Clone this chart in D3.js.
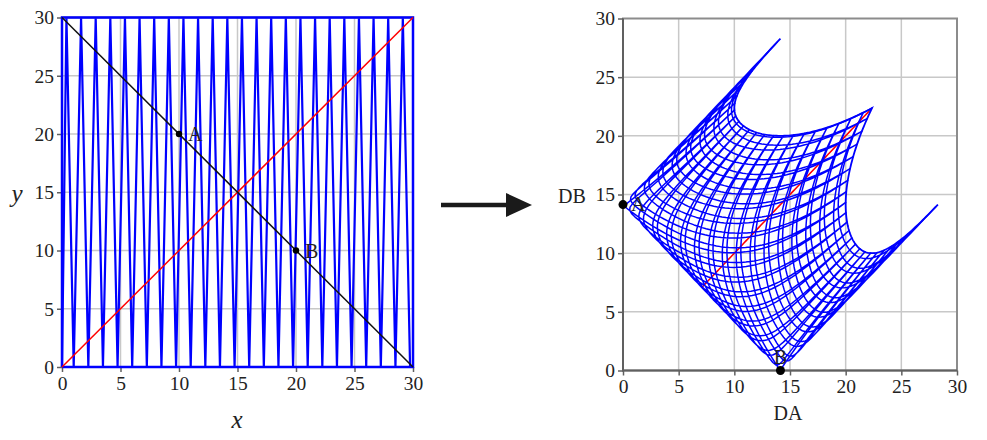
<!DOCTYPE html>
<html lang="en">
<head>
<meta charset="utf-8">
<title>Distance map</title>
<script src="https://d3js.org/d3.v7.min.js"></script>
<style>
  body { margin: 0; background: #fff; }
  text { font-family: "Liberation Serif", "DejaVu Serif", serif; fill: #222; }
</style>
</head>
<body>
<div id="chart"></div>
<script>
// Tick values (same on both charts)
var ticks = [0, 5, 10, 15, 20, 25, 30];

// Zigzag curve in the square: x of the top (y=30) and bottom (y=0) turning points
var zigTopX = [0.38, 1.63, 2.88, 4.13, 5.38, 6.63, 7.88, 9.13, 10.38, 11.63, 12.88, 14.13,
               15.38, 16.63, 17.88, 19.13, 20.38, 21.63, 22.88, 24.13, 25.38, 26.63, 27.88, 29.13];
var zigBottomX = [1.0, 2.25, 3.5, 4.75, 6.0, 7.25, 8.5, 9.75, 11.0, 12.25, 13.5, 14.75,
                  16.0, 17.25, 18.5, 19.75, 21.0, 22.25, 23.5, 24.75, 26.0, 27.25, 28.5, 29.75];
// Border of the square, also part of the blue curve
var border = [[0, 0], [0, 30], [30, 30], [30, 0], [0, 0]];
// Straight lines
var redLine = [[0, 0], [30, 30]];
var blackLine = [[0, 30], [30, 0]];
// Reference points
var pointNames = ["A", "B"];
var pointXY = [[10, 20], [20, 10]];

var svg = d3.select("#chart").append("svg")
  .attr("width", 987).attr("height", 440)
  .style("background", "#fff");

// build the zigzag vertex list
var zig = [[0, 0]];
zigTopX.forEach(function(t, i) {
  zig.push([t, 30]);
  if (i < zigBottomX.length) zig.push([zigBottomX[i], 0]);
});

// ---------- left chart ----------
var xL = d3.scaleLinear().domain([0, 30]).range([62, 413]);
var yL = d3.scaleLinear().domain([0, 30]).range([367, 17.5]);

// ---------- right chart ----------
var xR = d3.scaleLinear().domain([0, 30]).range([623, 957]);
var yR = d3.scaleLinear().domain([0, 30]).range([370.5, 18.5]);

function drawFrame(g, x, y) {
  g.selectAll(".gx").data(ticks.slice(1, -1)).enter().append("line")
    .attr("x1", function(d) { return x(d); }).attr("x2", function(d) { return x(d); })
    .attr("y1", y(0)).attr("y2", y(30))
    .attr("stroke", "#c8c8c8").attr("stroke-width", 1.5);
  g.selectAll(".gy").data(ticks.slice(1, -1)).enter().append("line")
    .attr("y1", function(d) { return y(d); }).attr("y2", function(d) { return y(d); })
    .attr("x1", x(0)).attr("x2", x(30))
    .attr("stroke", "#c8c8c8").attr("stroke-width", 1.5);
}

function drawAxes(g, x, y) {
  g.append("rect")
    .attr("x", x(0)).attr("y", y(30))
    .attr("width", x(30) - x(0)).attr("height", y(0) - y(30))
    .attr("fill", "none").attr("stroke", "#8c8c8c").attr("stroke-width", 2);
  g.append("path")
    .attr("d", "M" + x(0) + "," + y(30) + "V" + y(0) + "H" + x(30))
    .attr("fill", "none").attr("stroke", "#606060").attr("stroke-width", 2);

  var ax = g.append("g").attr("transform", "translate(0," + y(0) + ")")
    .call(d3.axisBottom(x).tickValues(ticks).tickSize(5).tickPadding(4).tickFormat(d3.format("d")));
  var ay = g.append("g").attr("transform", "translate(" + x(0) + ",0)")
    .call(d3.axisLeft(y).tickValues(ticks).tickSize(5).tickPadding(3).tickFormat(d3.format("d")));
  [ax, ay].forEach(function(a) {
    a.select(".domain").remove();
    a.selectAll("line").attr("stroke", "#606060").attr("stroke-width", 1.5);
    a.selectAll("text").attr("font-size", "19.5px")
      .attr("font-family", "Liberation Serif, serif").attr("fill", "#222");
  });
}

var line = function(x, y) {
  return d3.line().x(function(d) { return x(d[0]); }).y(function(d) { return y(d[1]); });
};

var left = svg.append("g");
drawFrame(left, xL, yL);
left.append("path").datum(zig)
  .attr("fill", "none").attr("stroke", "#0000ff").attr("stroke-width", 2.2)
  .attr("d", line(xL, yL));
drawAxes(left, xL, yL);
left.append("path").datum(border)
  .attr("fill", "none").attr("stroke", "#0000ff").attr("stroke-width", 2.5)
  .attr("d", line(xL, yL));
left.append("path").datum(redLine)
  .attr("fill", "none").attr("stroke", "#ff0000").attr("stroke-width", 1.5)
  .attr("d", line(xL, yL));
left.append("path").datum(blackLine)
  .attr("fill", "none").attr("stroke", "#111").attr("stroke-width", 1.5)
  .attr("d", line(xL, yL));
left.selectAll(".pt").data(pointXY).enter().append("circle")
  .attr("cx", function(d) { return xL(d[0]); })
  .attr("cy", function(d) { return yL(d[1]); })
  .attr("r", 3.2).attr("fill", "#000");
left.selectAll(".lab").data(pointXY).enter().append("text")
  .attr("x", function(d) { return xL(d[0]) + 9; })
  .attr("y", function(d) { return yL(d[1]) + 7; })
  .attr("font-size", "20px")
  .text(function(d, i) { return pointNames[i]; });
left.append("text").attr("x", 237).attr("y", 428)
  .attr("text-anchor", "middle").attr("font-size", "25px").attr("font-style", "italic")
  .text("x");
left.append("text").attr("x", 17).attr("y", 202)
  .attr("text-anchor", "middle").attr("font-size", "25px").attr("font-style", "italic")
  .text("y");

// ---------- arrow ----------
svg.append("line").attr("x1", 441).attr("x2", 512).attr("y1", 205).attr("y2", 205)
  .attr("stroke", "#1a1a1a").attr("stroke-width", 4.5);
svg.append("path").attr("d", "M506,193L532,205L506,217Z").attr("fill", "#1a1a1a");

// ---------- right chart: each point mapped to (distance to A, distance to B) ----------
function toDist(p) {
  return [Math.hypot(p[0] - pointXY[0][0], p[1] - pointXY[0][1]),
          Math.hypot(p[0] - pointXY[1][0], p[1] - pointXY[1][1])];
}
// a straight segment of the square becomes a curve, so follow it in small steps
function mapPolyline(pts, steps) {
  var out = [];
  for (var i = 0; i < pts.length - 1; i++) {
    var p = pts[i], q = pts[i + 1];
    for (var s = 0; s <= steps; s++) {
      if (i > 0 && s === 0) continue;
      var t = s / steps;
      out.push(toDist([p[0] + (q[0] - p[0]) * t, p[1] + (q[1] - p[1]) * t]));
    }
  }
  return out;
}

var right = svg.append("g");
drawFrame(right, xR, yR);
right.append("path").datum(mapPolyline(redLine, 200))
  .attr("fill", "none").attr("stroke", "#ff0000").attr("stroke-width", 1.6)
  .attr("d", line(xR, yR));
right.append("path").datum(mapPolyline(zig, 80))
  .attr("fill", "none").attr("stroke", "#0000ff").attr("stroke-width", 1.5)
  .attr("stroke-linejoin", "round")
  .attr("d", line(xR, yR));
right.append("path").datum(mapPolyline(border, 120))
  .attr("fill", "none").attr("stroke", "#0000ff").attr("stroke-width", 1.8)
  .attr("d", line(xR, yR));
drawAxes(right, xR, yR);

var ptsR = pointXY.map(toDist);
right.selectAll(".pt").data(ptsR).enter().append("circle")
  .attr("cx", function(d) { return xR(d[0]); })
  .attr("cy", function(d) { return yR(d[1]); })
  .attr("r", 4.5).attr("fill", "#000");
right.append("text").attr("x", xR(ptsR[0][0]) + 8).attr("y", yR(ptsR[0][1]) + 6)
  .attr("font-size", "20px").text(pointNames[0]);
right.append("text").attr("x", xR(ptsR[1][0])).attr("y", yR(ptsR[1][1]) - 7)
  .attr("text-anchor", "middle").attr("font-size", "20px").text(pointNames[1]);
right.append("text").attr("x", 788).attr("y", 420)
  .attr("text-anchor", "middle").attr("font-size", "20px").text("DA");
right.append("text").attr("x", 572).attr("y", 203)
  .attr("text-anchor", "middle").attr("font-size", "20px").text("DB");
</script>
</body>
</html>
